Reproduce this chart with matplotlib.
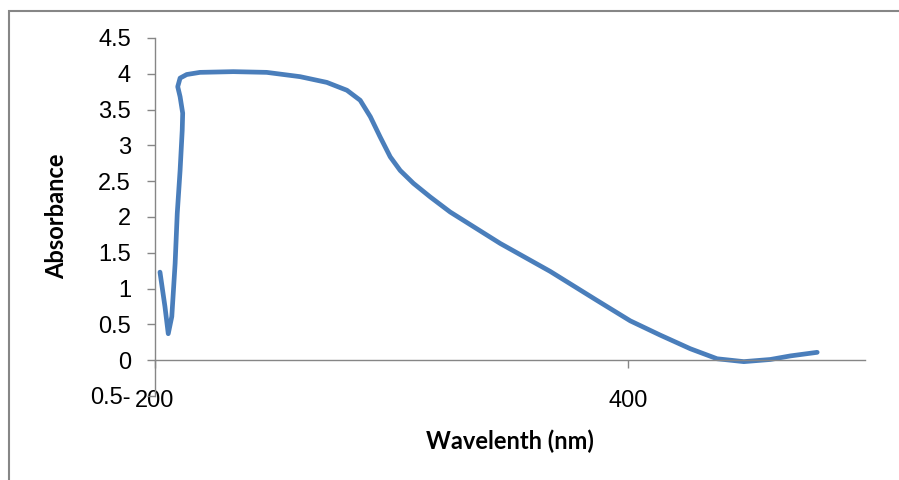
import matplotlib.pyplot as plt
import matplotlib as mpl
from matplotlib.patches import Rectangle

mpl.rcParams['font.family'] = 'Liberation Sans'

# Dane
wavelength = [202.1, 204.2, 205.6, 207.1, 208.5, 209.4, 210.6, 211.5, 211.7, 210.6,
              209.6, 210.6, 213.4, 219.0, 233.1, 247.2, 261.3, 272.6, 281.1, 286.7,
              291.0, 295.1, 299.4, 303.6, 309.2, 316.3, 324.7, 345.9, 367.0, 386.5,
              400.8, 413.5, 426.2, 437.5, 448.8, 460.0, 468.5, 479.8]
absorbance = [1.23, 0.75, 0.37, 0.61, 1.35, 2.05, 2.65, 3.21, 3.45, 3.68,
              3.82, 3.94, 3.99, 4.02, 4.03, 4.02, 3.96, 3.88, 3.77, 3.63,
              3.40, 3.12, 2.84, 2.65, 2.47, 2.28, 2.07, 1.63, 1.24, 0.84,
              0.55, 0.35, 0.16, 0.02, -0.02, 0.01, 0.06, 0.11]

y_ticks = [-0.5, 0, 0.5, 1, 1.5, 2, 2.5, 3, 3.5, 4, 4.5]
y_tick_labels = ["0.5-", "0", "0.5", "1", "1.5", "2", "2.5", "3", "3.5", "4", "4.5"]
x_ticks = [200, 400]
x_tick_labels = ["200", "400"]

W, H = 899, 480
fig = plt.figure(figsize=(W / 100, H / 100), dpi=100)
ax = fig.add_axes([155 / W, 1 - 396 / H, 710 / W, 358 / H])

ax.plot(wavelength, absorbance, color="#4a7ebb", lw=3.4,
        solid_joinstyle="round", solid_capstyle="round", clip_on=False)

ax.set_xlim(200, 500)
ax.set_ylim(-0.5, 4.5)

grey = "#868686"
for s in ["top", "right"]:
    ax.spines[s].set_visible(False)
ax.spines["left"].set_color(grey)
ax.spines["bottom"].set_color(grey)
ax.spines["left"].set_linewidth(1.0)
ax.spines["bottom"].set_linewidth(1.0)
ax.spines["bottom"].set_position(("data", 0))

ax.set_yticks(y_ticks)
ax.set_yticklabels(y_tick_labels)
ax.set_xticks(x_ticks)
ax.set_xticklabels(x_tick_labels)
ax.tick_params(axis="y", length=5.8, width=1.0, color=grey, pad=11.5, labelsize=17)
ax.tick_params(axis="x", length=5.8, width=1.0, color=grey, pad=15.8, labelsize=17)

# Opisy osi
fig.text(56.5 / W, 1 - 216.5 / H, "Absorbance", rotation=90, ha="center", va="center",
         fontsize=17, fontweight="bold", family="Lato")
fig.text(510 / W, 1 - 441.7 / H, "Wavelenth (nm)", ha="center", va="center",
         fontsize=17, fontweight="bold", family="Lato")

# Ramka wykresu
fig.patches.append(Rectangle((9 / W, -0.2), 1.2, 0.2 + (H - 11) / H,
                             transform=fig.transFigure, fill=False,
                             edgecolor=grey, lw=1.5))

fig.savefig("out.png", dpi=100)
